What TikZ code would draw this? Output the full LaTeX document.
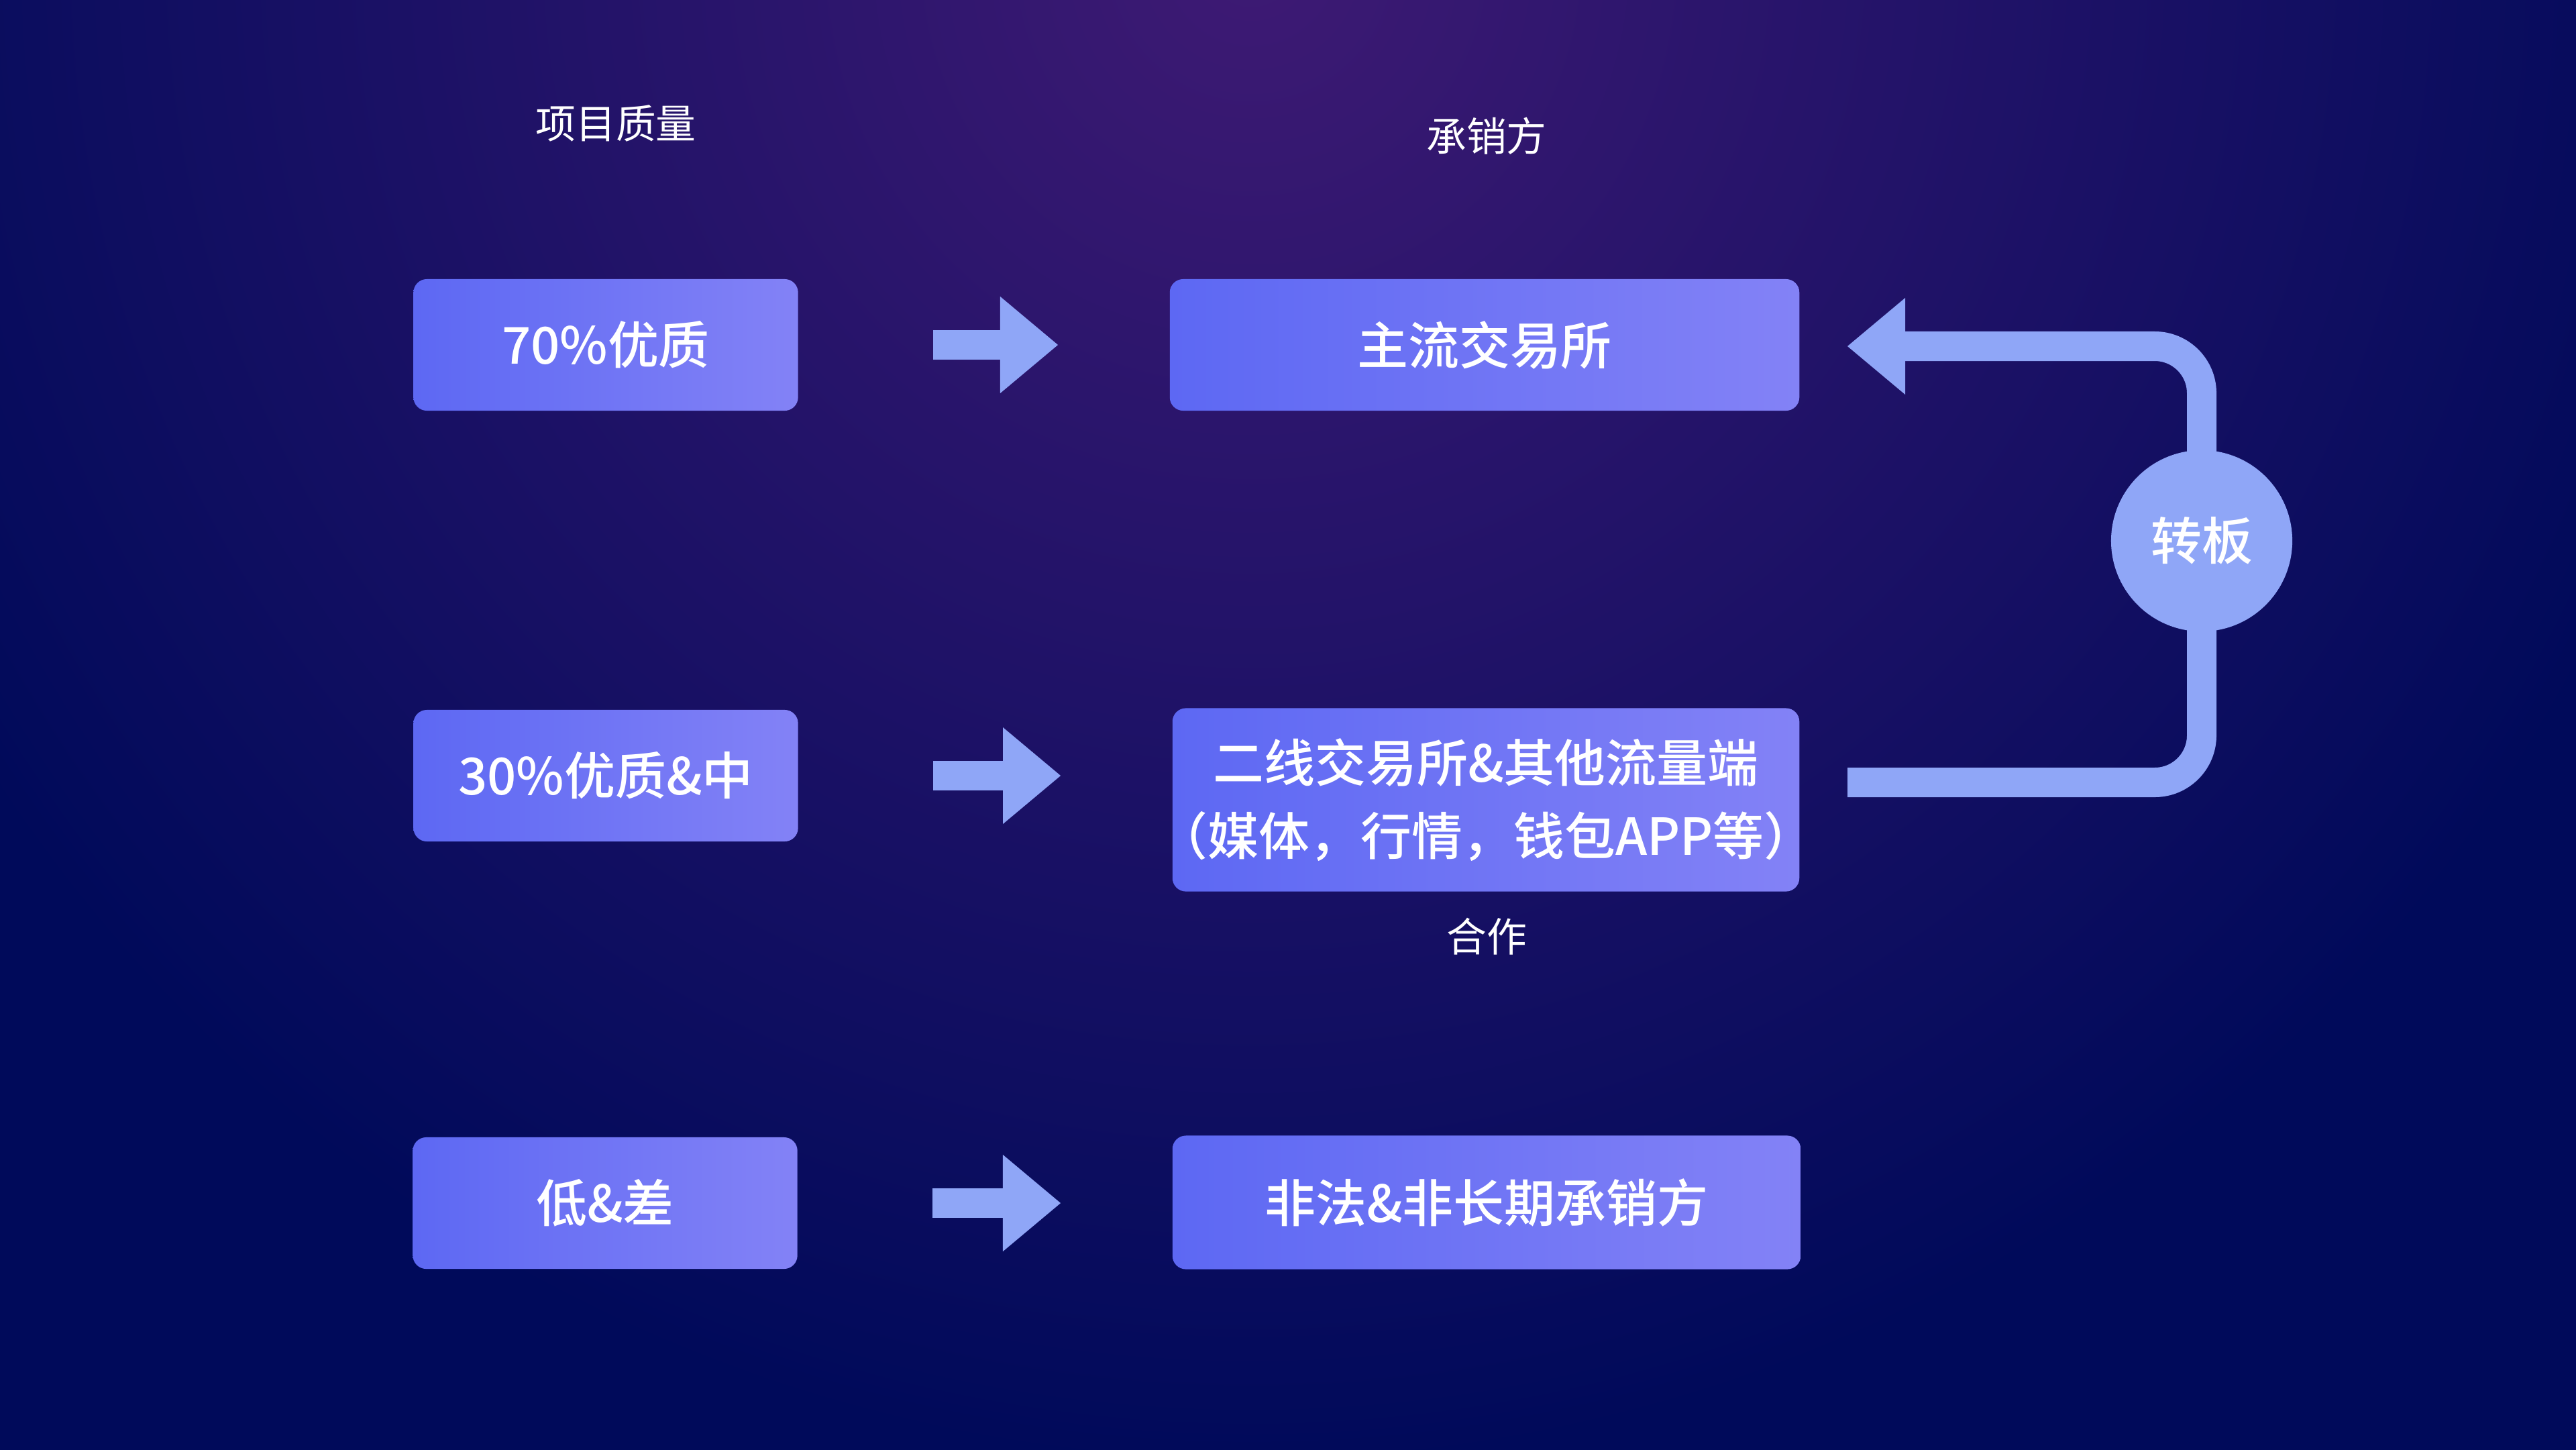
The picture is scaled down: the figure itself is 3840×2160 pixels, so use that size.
\documentclass[tikz,border=0pt]{standalone}
\usepackage{fontspec}
\setmainfont{Noto Sans CJK SC}
\newfontfamily\boxfont{Noto Sans CJK SC Medium}
\usepackage{xcolor}
\usepackage{tikz}
\usetikzlibrary{arrows.meta,calc}

\definecolor{bgnavy}{RGB}{0,10,90}
\definecolor{bgglow}{RGB}{62,26,116}
\definecolor{boxleft}{RGB}{93,104,243}
\definecolor{boxright}{RGB}{131,130,246}
\definecolor{flowblue}{RGB}{143,166,247}

\pgfdeclareradialshading{glowshade}{\pgfpoint{0bp}{0bp}}{color(0bp)=(bgglow); color(18.75bp)=(bgnavy); color(25bp)=(bgnavy); color(50bp)=(bgnavy)}

\tikzset{
  levelbox/.style={rounded corners=0.2cm, left color=boxleft, right color=boxright,
    text=white, inner sep=0pt, minimum height=1.96cm, align=center,
    font=\boxfont\fontsize{21.6}{31}\selectfont},
  headtext/.style={text=white, inner sep=0pt, font=\fontsize{17}{20}\selectfont},
  fatarrow/.style={draw=flowblue, line width=0.44cm,
    -{Triangle[length=0.86cm, width=1.44cm, line width=0pt]}},
  loopline/.style={draw=flowblue, line width=0.44cm, rounded corners=0.7cm},
}

\begin{document}
\begin{tikzpicture}[x=0.01cm, y=-0.01cm]
    \useasboundingbox (0,0) rectangle (3840,2160);
    \begin{scope}
        \clip (-20,-20) rectangle (3860,2180);
        \fill[bgnavy] (-20,-20) rectangle (3860,2180);
        \shade[shading=glowshade] (1865,-60) circle (30cm);
    \end{scope}
    % column heads
    \node[headtext] (h1) at (918,184) {项目质量};
    \node[headtext] (h2) at (2216,203) {承销方};
    % quality boxes
    \node[levelbox, minimum width=5.73cm] (q1) at (903,514) {70\%优质};
    \node[levelbox, minimum width=5.73cm] (q2) at (903,1156) {30\%优质\&中};
    \node[levelbox, minimum width=5.73cm] (q3) at (902,1793) {低\&差};
    % underwriter boxes
    \node[levelbox, minimum width=9.34cm, minimum height=2.73cm] (u2) at (2215,1192)
        {\makebox[0pt]{二线交易所\&其他流量端}\\\makebox[0pt]{（媒体，行情，钱包APP等）}};
    \node[levelbox, minimum width=9.38cm] (u1) at (2213,514) {主流交易所};
    \node[levelbox, minimum width=9.36cm, minimum height=1.99cm] (u3) at (2216,1792) {非法\&非长期承销方};
    \node[headtext] (n1) at (2216,1396) {合作};
    \foreach \i in {1,2,3}
        \draw[fatarrow] ($(q\i.east)+(201,0)$) -- ($(u\i.west |- q\i.east)+(-166,0)$);
    % transfer loop
    \node[circle, fill=flowblue, minimum size=2.7cm, inner sep=0pt, text=white,
        font=\boxfont\fontsize{21.6}{26}\selectfont] (z) at (3282,806) {转板};
    \draw[loopline] ($(u2.east)+(71,-26)$) -| ($(z.south)+(0,-4)$);
    \draw[loopline, -{Triangle[length=0.86cm, width=1.44cm, line width=0pt]}]
        ($(z.north)+(0,4)$) |- ($(u1.east)+(71,2)$);
\end{tikzpicture}
\end{document}
